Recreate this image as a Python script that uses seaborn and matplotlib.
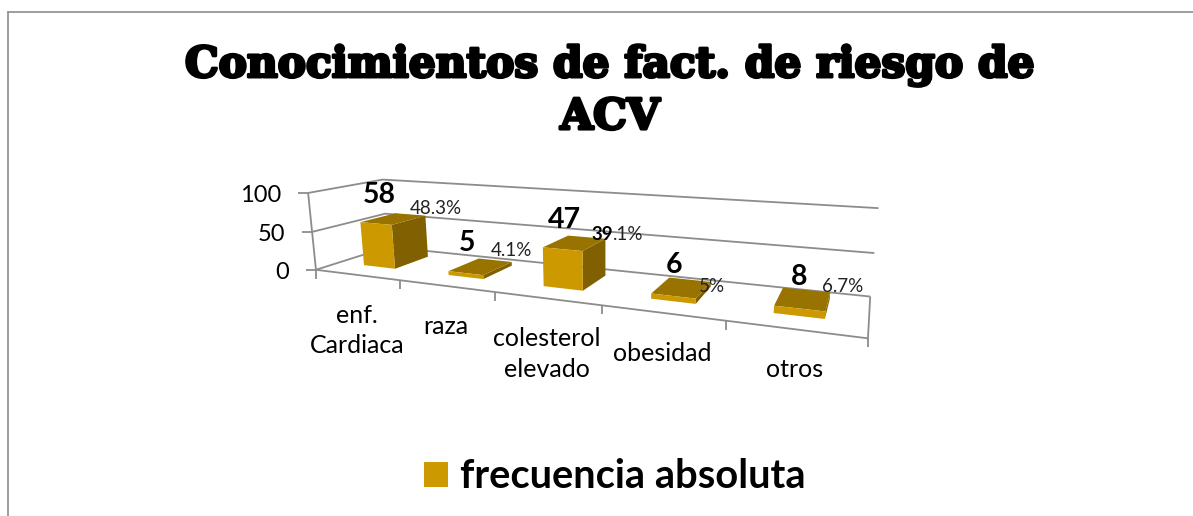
"""Excel style 3D column chart: risk factor awareness for stroke (ACV)."""

import matplotlib.pyplot as plt
import matplotlib.patheffects as pe
from matplotlib.lines import Line2D
from matplotlib.transforms import Affine2D, Transform
import numpy as np
import seaborn as sns

categorias = ["enf.\nCardiaca", "raza", "colesterol\nelevado", "obesidad", "otros"]
frecuencia = [58, 5, 47, 6, 8]
y_ticks = [0, 50, 100]
titulo = "Conocimientos de fact. de riesgo de\nACV"
serie = "frecuencia absoluta"

W, H = 1193, 516
FRONT, SIDE, TOP = "#CC9900", "#806000", "#997300"
GREY = "#8C8C8C"
BAR_D0, BAR_D1 = 0.3, 0.8

# plot box corners seen in the picture: (category pos, value, depth) -> pixel
CORNERS = [
    ((-0.5, 0, 0), (317, 270)),
    ((-0.5, 100, 0), (307, 193)),
    ((-0.5, 0, 1), (386, 247)),
    ((-0.5, 50, 1), (387, 213)),
    ((-0.5, 100, 1), (383, 180)),
    ((4.5, 0, 1), (870, 297)),
    ((4.5, 50, 1), (875, 253)),
    ((4.5, 100, 1), (878, 208)),
    ((4.5, 0, 0), (868, 338)),
]


def fit_camera(corners):
    """Least squares 3x4 projective matrix from the box corners."""
    rows, rhs = [], []
    for (u, z, d), (px, py) in corners:
        rows.append([u, z, d, 1, 0, 0, 0, 0, -px * u, -px * z, -px * d])
        rhs.append(px)
        rows.append([0, 0, 0, 0, u, z, d, 1, -py * u, -py * z, -py * d])
        rhs.append(py)
    sol = np.linalg.lstsq(np.array(rows, float), np.array(rhs, float), rcond=None)[0]
    return np.append(sol, 1.0).reshape(3, 4)


CAMERA = fit_camera(CORNERS)


def project(u, z, d):
    u, z, d = np.broadcast_arrays(u, z, d)
    pts = np.stack([u, z, d, np.ones_like(u)], axis=-1).astype(float) @ CAMERA.T
    return pts[..., 0] / pts[..., 2], pts[..., 1] / pts[..., 2]


class DepthPlane(Transform):
    """Sends (category, value) at a fixed depth to picture pixels."""

    input_dims = 2
    output_dims = 2

    def __init__(self, plane):
        super().__init__()
        self.plane = plane

    def transform_non_affine(self, values):
        values = np.asarray(values, float)
        return np.column_stack(project(values[:, 0], values[:, 1], self.plane))


sns.set_theme(style="white")
plt.rcParams["font.family"] = ["Lato", "DejaVu Sans"]

fig = plt.figure(figsize=(W / 100, H / 100), dpi=100)
ax = fig.add_axes([0, 0, 1, 1])
px = Affine2D().scale(1 / W, -1 / H).translate(0, 1) + fig.transFigure

sns.barplot(
    x=categorias,
    y=frecuencia,
    ax=ax,
    color=FRONT,
    saturation=1,
    width=0.38,
    linewidth=0,
    label=serie,
    transform=DepthPlane(BAR_D0) + px,
    zorder=3,
)
ax.set_ylim(0, 100)
ax.set_axis_off()

# sides and tops of the columns
for bar in ax.containers[0]:
    u0, u1 = bar.get_x(), bar.get_x() + bar.get_width()
    z = bar.get_height()
    xs, ys = project([u1, u1, u1, u1], [0, 0, z, z], [BAR_D0, BAR_D1, BAR_D1, BAR_D0])
    ax.fill(xs, ys, color=SIDE, lw=0, transform=px, zorder=2)
    xs, ys = project([u0, u1, u1, u0], z, [BAR_D0, BAR_D0, BAR_D1, BAR_D1])
    ax.fill(xs, ys, color=TOP, lw=0, transform=px, zorder=2.5)

# walls and axes
line_kw = dict(color=GREY, lw=1.3, transform=px, zorder=1, solid_capstyle="butt")
for val in y_ticks:
    xs, ys = project([-0.5, -0.5, 4.5], val, [0, 1, 1])
    ax.plot(xs, ys, **line_kw)
    xs, ys = project(-0.5, val, 0)
    ax.plot([xs - 10, xs], [ys, ys], **line_kw)
    ax.text(xs - 27, ys + 3, str(val), transform=px, ha="right", va="center",
            fontsize=17, color="black")
xs, ys = project([-0.5, -0.5], [0, 100], 0)
ax.plot(xs, ys, **line_kw)
xs, ys = project([-0.5, 4.5, 4.5], 0, [0, 0, 1])
ax.plot(xs, ys, **line_kw)
for pos in np.arange(-0.5, 5):
    xs, ys = project(pos, 0, 0)
    ax.plot([xs, xs], [ys, ys + 9], **line_kw)

# category labels
for i, lab in enumerate(categorias):
    xs, ys = project(i, 0, 0)
    ax.text(xs, ys + 29, lab, transform=px, ha="center", va="top",
            fontsize=18, color="black", linespacing=1.38)

# data labels sit where the author dragged them in the original
for txt, (lx, ly) in zip(["58", "5", "47", "6", "8"],
                         [(379, 195), (467, 243), (564, 220), (674, 265), (799, 277)]):
    ax.text(lx, ly, txt, transform=px, ha="center", va="center",
            fontsize=20.5, fontweight="bold", color="black")
for txt, (lx, ly) in zip(["48.3%", "4.1%", "5%", "6.7%"],
                         [(436, 208), (511, 251), (712, 286), (843, 286)]):
    ax.text(lx, ly, txt, transform=px, ha="center", va="center",
            fontsize=13.5, color="#222222")
ax.text(613, 235, ".1%", transform=px, ha="left", va="center",
        fontsize=13.5, color="#222222")
ax.text(613, 235, "39", transform=px, ha="right", va="center",
        fontsize=13.5, fontweight="bold", color="black")

ax.text(610, 91, titulo, transform=px, ha="center", va="center",
        fontsize=30.5, fontweight="bold", family="DejaVu Serif", color="black",
        linespacing=1.29,
        path_effects=[pe.withStroke(linewidth=2.2, foreground="black")])

ax.legend(
    loc="center", bbox_to_anchor=(615 / W, 1 - 477 / H), frameon=False,
    prop=dict(size=28.7, weight="bold"), handlelength=0.6, handleheight=0.6,
    handletextpad=0.3, labelcolor="black",
)

# chart area border
border = dict(color="#8C8C8C", lw=1.2, transform=px)
fig.add_artist(Line2D([8, 8], [516, 12], **border))
fig.add_artist(Line2D([8, 1193], [12, 12], **border))

fig.savefig("out.png", dpi=100)
